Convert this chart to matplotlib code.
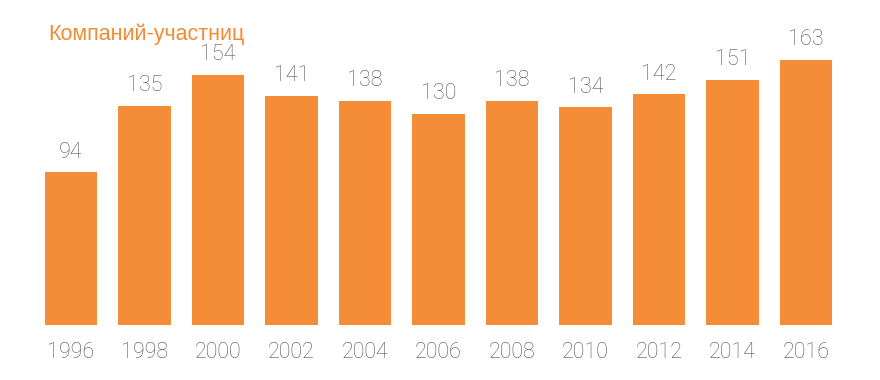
import matplotlib
matplotlib.use("Agg")
import matplotlib.pyplot as plt
import numpy as np

years = ["1996", "1998", "2000", "2002", "2004", "2006", "2008", "2010", "2012", "2014", "2016"]
companies = [94, 135, 154, 141, 138, 130, 138, 134, 142, 151, 163]

bar_color = "#f58c38"
text_color = "#555555"

fig = plt.figure(figsize=(8.8, 3.8), dpi=100)
ax = fig.add_axes([0, 55 / 380, 1, 325 / 380])

ind = np.arange(len(years))
ax.bar(ind, companies, 0.71, color=bar_color)

for x, v in zip(ind, companies):
    ax.annotate(str(v), (x, v), xytext=(0, 7), textcoords="offset points",
                ha="center", va="bottom", fontsize=15.5, color=text_color,
                family="Roboto", fontweight="light")

ax.set_xlim(-0.966, 11.007)
ax.set_ylim(0, 200)
ax.set_xticks(ind)
ax.set_xticklabels(years, fontsize=15.5, color=text_color, family="Roboto", fontweight="light")
ax.tick_params(axis="x", length=0, pad=12)
ax.set_yticks([])
for s in ax.spines.values():
    s.set_visible(False)

fig.text(48 / 880, 1 - 34 / 380, "Компаний-участниц", fontsize=15.5, color="#f58a32",
         family="Liberation Sans", va="center", ha="left")

fig.savefig("out.png", dpi=100)
